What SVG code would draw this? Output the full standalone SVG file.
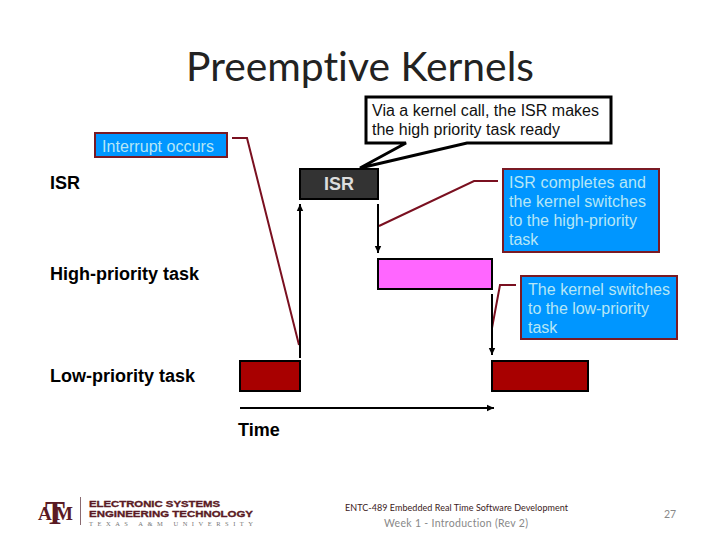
<svg xmlns="http://www.w3.org/2000/svg" width="720" height="540" viewBox="0 0 720 540">
<defs>
<marker id="ah" markerUnits="userSpaceOnUse" markerWidth="8" markerHeight="8" refX="7" refY="4" orient="auto"><path d="M0 0.8L7 4L0 7.2Z" fill="#000"/></marker>
</defs>
<style>
text{font-family:"Liberation Sans",Arial,sans-serif;font-variant-ligatures:none}
.lb{font-size:18px;font-weight:bold;fill:#000}
.cw{font-size:16px;fill:#b6e6f6}
.cb{fill:#0096ff;stroke:#7a1a24;stroke-width:2}
.task{stroke:#000;stroke-width:2}
.lead{fill:none;stroke:#7a1020;stroke-width:2}
.ax{fill:none;stroke:#000;stroke-width:2;marker-end:url(#ah)}
.lg{font-size:9.5px;font-weight:bold;stroke:#5a1a24;stroke-width:.35}
</style>
<rect width="720" height="540" fill="#fff"/>
<text id="title" x="186" y="81" font-size="40" textLength="348" lengthAdjust="spacingAndGlyphs" style="font-family:Lato,'Open Sans',sans-serif" fill="#222">Preemptive Kernels</text>
<g id="connectors">
<path class="lead" d="M232 138H247L299 345"/>
<path class="lead" d="M379 226L474 181H498"/>
<path class="lead" d="M492 328L500 285H516"/>
<path class="ax" d="M300 358V204"/>
<path class="ax" d="M378 204V253"/>
<path class="ax" d="M492 294V355"/>
<path class="ax" d="M240 408H494"/>
</g>
<g id="callout-kernel">
<path d="M366 97H611V143H467L360 168L406 143H366Z" fill="#fff" stroke="#000" stroke-width="3" stroke-linejoin="miter"/>
<text x="372" y="116" font-size="16" fill="#111" textLength="227">Via a kernel call, the ISR makes</text>
<text x="372" y="135" font-size="16" fill="#111" textLength="188">the high priority task ready</text>
</g>
<g id="callout-interrupt">
<rect class="cb" x="95" y="133" width="132" height="24"/>
<text class="cw" x="102" y="152" textLength="112">Interrupt occurs</text>
</g>
<g id="label-isr"><text class="lb" x="50" y="189">ISR</text></g>
<g id="label-high"><text class="lb" x="50" y="280" textLength="149">High-priority task</text></g>
<g id="label-low"><text class="lb" x="50" y="382" textLength="145">Low-priority task</text></g>
<g id="label-time"><text class="lb" x="238" y="436">Time</text></g>
<g id="task-isr">
<rect x="300" y="169" width="78" height="30" fill="#333" stroke="#000" stroke-width="2"/>
<text x="339" y="190" font-size="18" font-weight="bold" fill="#ddd" text-anchor="middle">ISR</text>
</g>
<g id="callout-completes">
<rect class="cb" x="503" y="169" width="156" height="83"/>
<text class="cw" x="509" y="188" textLength="137">ISR completes and</text>
<text class="cw" x="509" y="207" textLength="137">the kernel switches</text>
<text class="cw" x="509" y="226" textLength="128">to the high-priority</text>
<text class="cw" x="509" y="245">task</text>
</g>
<g id="task-high"><rect class="task" x="378" y="259" width="114" height="30" fill="#ff66ff"/></g>
<g id="callout-low">
<rect class="cb" x="521" y="276" width="156" height="63"/>
<text class="cw" x="528" y="295" textLength="142">The kernel switches</text>
<text class="cw" x="528" y="314" textLength="121">to the low-priority</text>
<text class="cw" x="528" y="333">task</text>
</g>
<g id="task-low-1"><rect class="task" x="240" y="361" width="60" height="30" fill="#a80000"/></g>
<g id="task-low-2"><rect class="task" x="492" y="361" width="96" height="30" fill="#a80000"/></g>
<g id="logo" fill="#5a1a24">
<text font-weight="bold" style="font-family:'Liberation Serif',serif"><tspan x="38" y="520" font-size="19">A</tspan><tspan x="45" y="524" font-size="34" textLength="20" lengthAdjust="spacingAndGlyphs">T</tspan><tspan x="55" y="520" font-size="19">M</tspan></text>
<rect x="80" y="497" width="1" height="28" fill="#8a6a70"/>
<text class="lg" x="89" y="507" textLength="131" lengthAdjust="spacingAndGlyphs">ELECTRONIC SYSTEMS</text>
<text class="lg" x="89" y="516.5" textLength="164" lengthAdjust="spacingAndGlyphs">ENGINEERING TECHNOLOGY</text>
<text x="89" y="526" font-size="6.5" textLength="164" style="font-family:'Liberation Serif',serif" fill="#777">TEXAS A&amp;M UNIVERSITY</text>
</g>
<g id="footer">
<text x="345" y="511" font-size="9" fill="#3a1a1a" textLength="223" style="font-family:Lato,sans-serif">ENTC-489 Embedded Real Time Software Development</text>
<text x="384" y="527" font-size="10.5" fill="#888" textLength="144" style="font-family:Lato,sans-serif">Week 1 - Introduction (Rev 2)</text>
<text x="664" y="518" font-size="10.5" fill="#888" style="font-family:Lato,sans-serif">27</text>
</g>
</svg>
